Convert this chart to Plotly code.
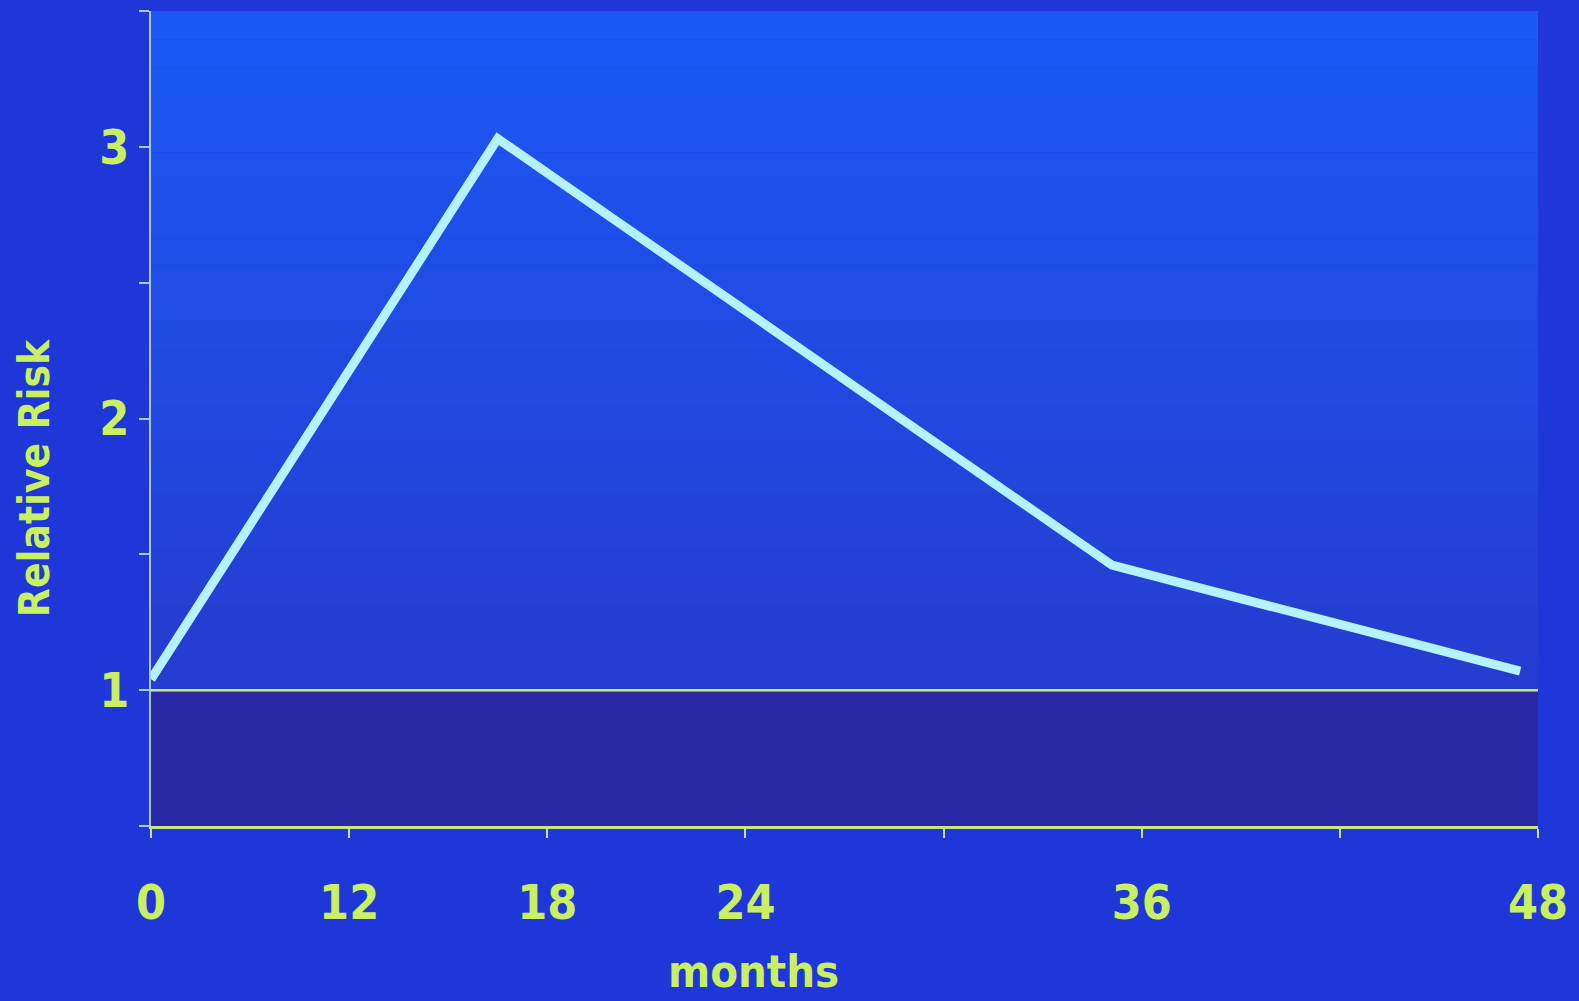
import plotly.graph_objects as go

# Axis positions (one unit per tick mark) and their month labels
x_tick_pos = [0, 1, 2, 3, 4, 5, 6, 7]
x_tick_text = ["0", "12", "18", "24", "", "36", "", "48"]

y_tick_vals = [0.5, 1.0, 1.5, 2.0, 2.5, 3.0, 3.5]
y_tick_text = ["", "1", "", "2", "", "3", ""]

# Relative risk curve (position along the month axis, relative risk)
risk_pos = [0.0, 1.75, 4.85, 6.91]
risk_val = [1.04, 3.03, 1.46, 1.07]

baseline_risk = 1.0

FONT = "Liberation Sans Narrow, DejaVu Sans Condensed, Arial Narrow, sans-serif"
TEXT_COLOR = "#c8f060"

fig = go.Figure()

fig.add_trace(go.Scatter(
    x=risk_pos, y=risk_val, mode="lines",
    line=dict(color="#b4f2ff", width=9),
    hoverinfo="skip", showlegend=False,
))

shapes = []
# Vertical colour fade inside the plot area, brighter at the top
top_rgb = (0x1b, 0x58, 0xf4)
bot_rgb = (0x25, 0x3c, 0xd0)
n_bands = 24
for i in range(n_bands):
    t = i / (n_bands - 1)
    r = round(top_rgb[0] + (bot_rgb[0] - top_rgb[0]) * t)
    g = round(top_rgb[1] + (bot_rgb[1] - top_rgb[1]) * t)
    b = round(top_rgb[2] + (bot_rgb[2] - top_rgb[2]) * t)
    y1 = 3.5 - (3.5 - baseline_risk) * i / n_bands
    y0 = 3.5 - (3.5 - baseline_risk) * (i + 1) / n_bands
    shapes.append(dict(type="rect", xref="x", yref="y", x0=0, x1=7, y0=y0, y1=y1,
                       fillcolor=f"rgb({r},{g},{b})", line=dict(width=0), layer="below"))
# Darker band below the baseline
shapes.append(dict(type="rect", xref="x", yref="y", x0=0, x1=7, y0=0.5, y1=baseline_risk,
                   fillcolor="#2a27a4", line=dict(width=0), layer="below"))
# Baseline at relative risk 1
shapes.append(dict(type="line", xref="x", yref="y", x0=0, x1=7,
                   y0=baseline_risk, y1=baseline_risk,
                   line=dict(color="#c4eea8", width=2.5), layer="above"))

fig.update_layout(
    width=1579, height=1001,
    margin=dict(l=151, r=38, t=11, b=175),
    paper_bgcolor="#1f37d8",
    plot_bgcolor="#2340d4",
    shapes=shapes,
    showlegend=False,
    annotations=[
        dict(text="<b>Relative Risk</b>", xref="paper", yref="paper",
             x=-0.0835, y=0.427, xanchor="center", yanchor="middle",
             textangle=-90, showarrow=False,
             font=dict(family=FONT, size=42, color=TEXT_COLOR)),
        dict(text="<b>months</b>", xref="paper", yref="paper",
             x=0.4345, y=-0.179, xanchor="center", yanchor="middle",
             showarrow=False,
             font=dict(family=FONT, size=45, color=TEXT_COLOR)),
    ],
)

fig.update_xaxes(
    range=[0, 7], tickmode="array", tickvals=x_tick_pos, ticktext=x_tick_text,
    showgrid=False, zeroline=False,
    showline=True, linecolor="#c6e682", linewidth=2.5,
    ticks="outside", ticklen=9, tickwidth=2, tickcolor="#c6e682",
    ticklabelstandoff=24,
    tickfont=dict(family=FONT, size=48, color=TEXT_COLOR, weight="bold"),
)
fig.update_yaxes(
    range=[0.5, 3.5], tickmode="array", tickvals=y_tick_vals, ticktext=y_tick_text,
    showgrid=False, zeroline=False,
    showline=True, linecolor="#a9c8f2", linewidth=2,
    ticks="outside", ticklen=10, tickwidth=2, tickcolor="#a9c8f2",
    ticklabelstandoff=0,
    tickfont=dict(family=FONT, size=48, color=TEXT_COLOR, weight="bold"),
)

fig.write_html("out.html")
